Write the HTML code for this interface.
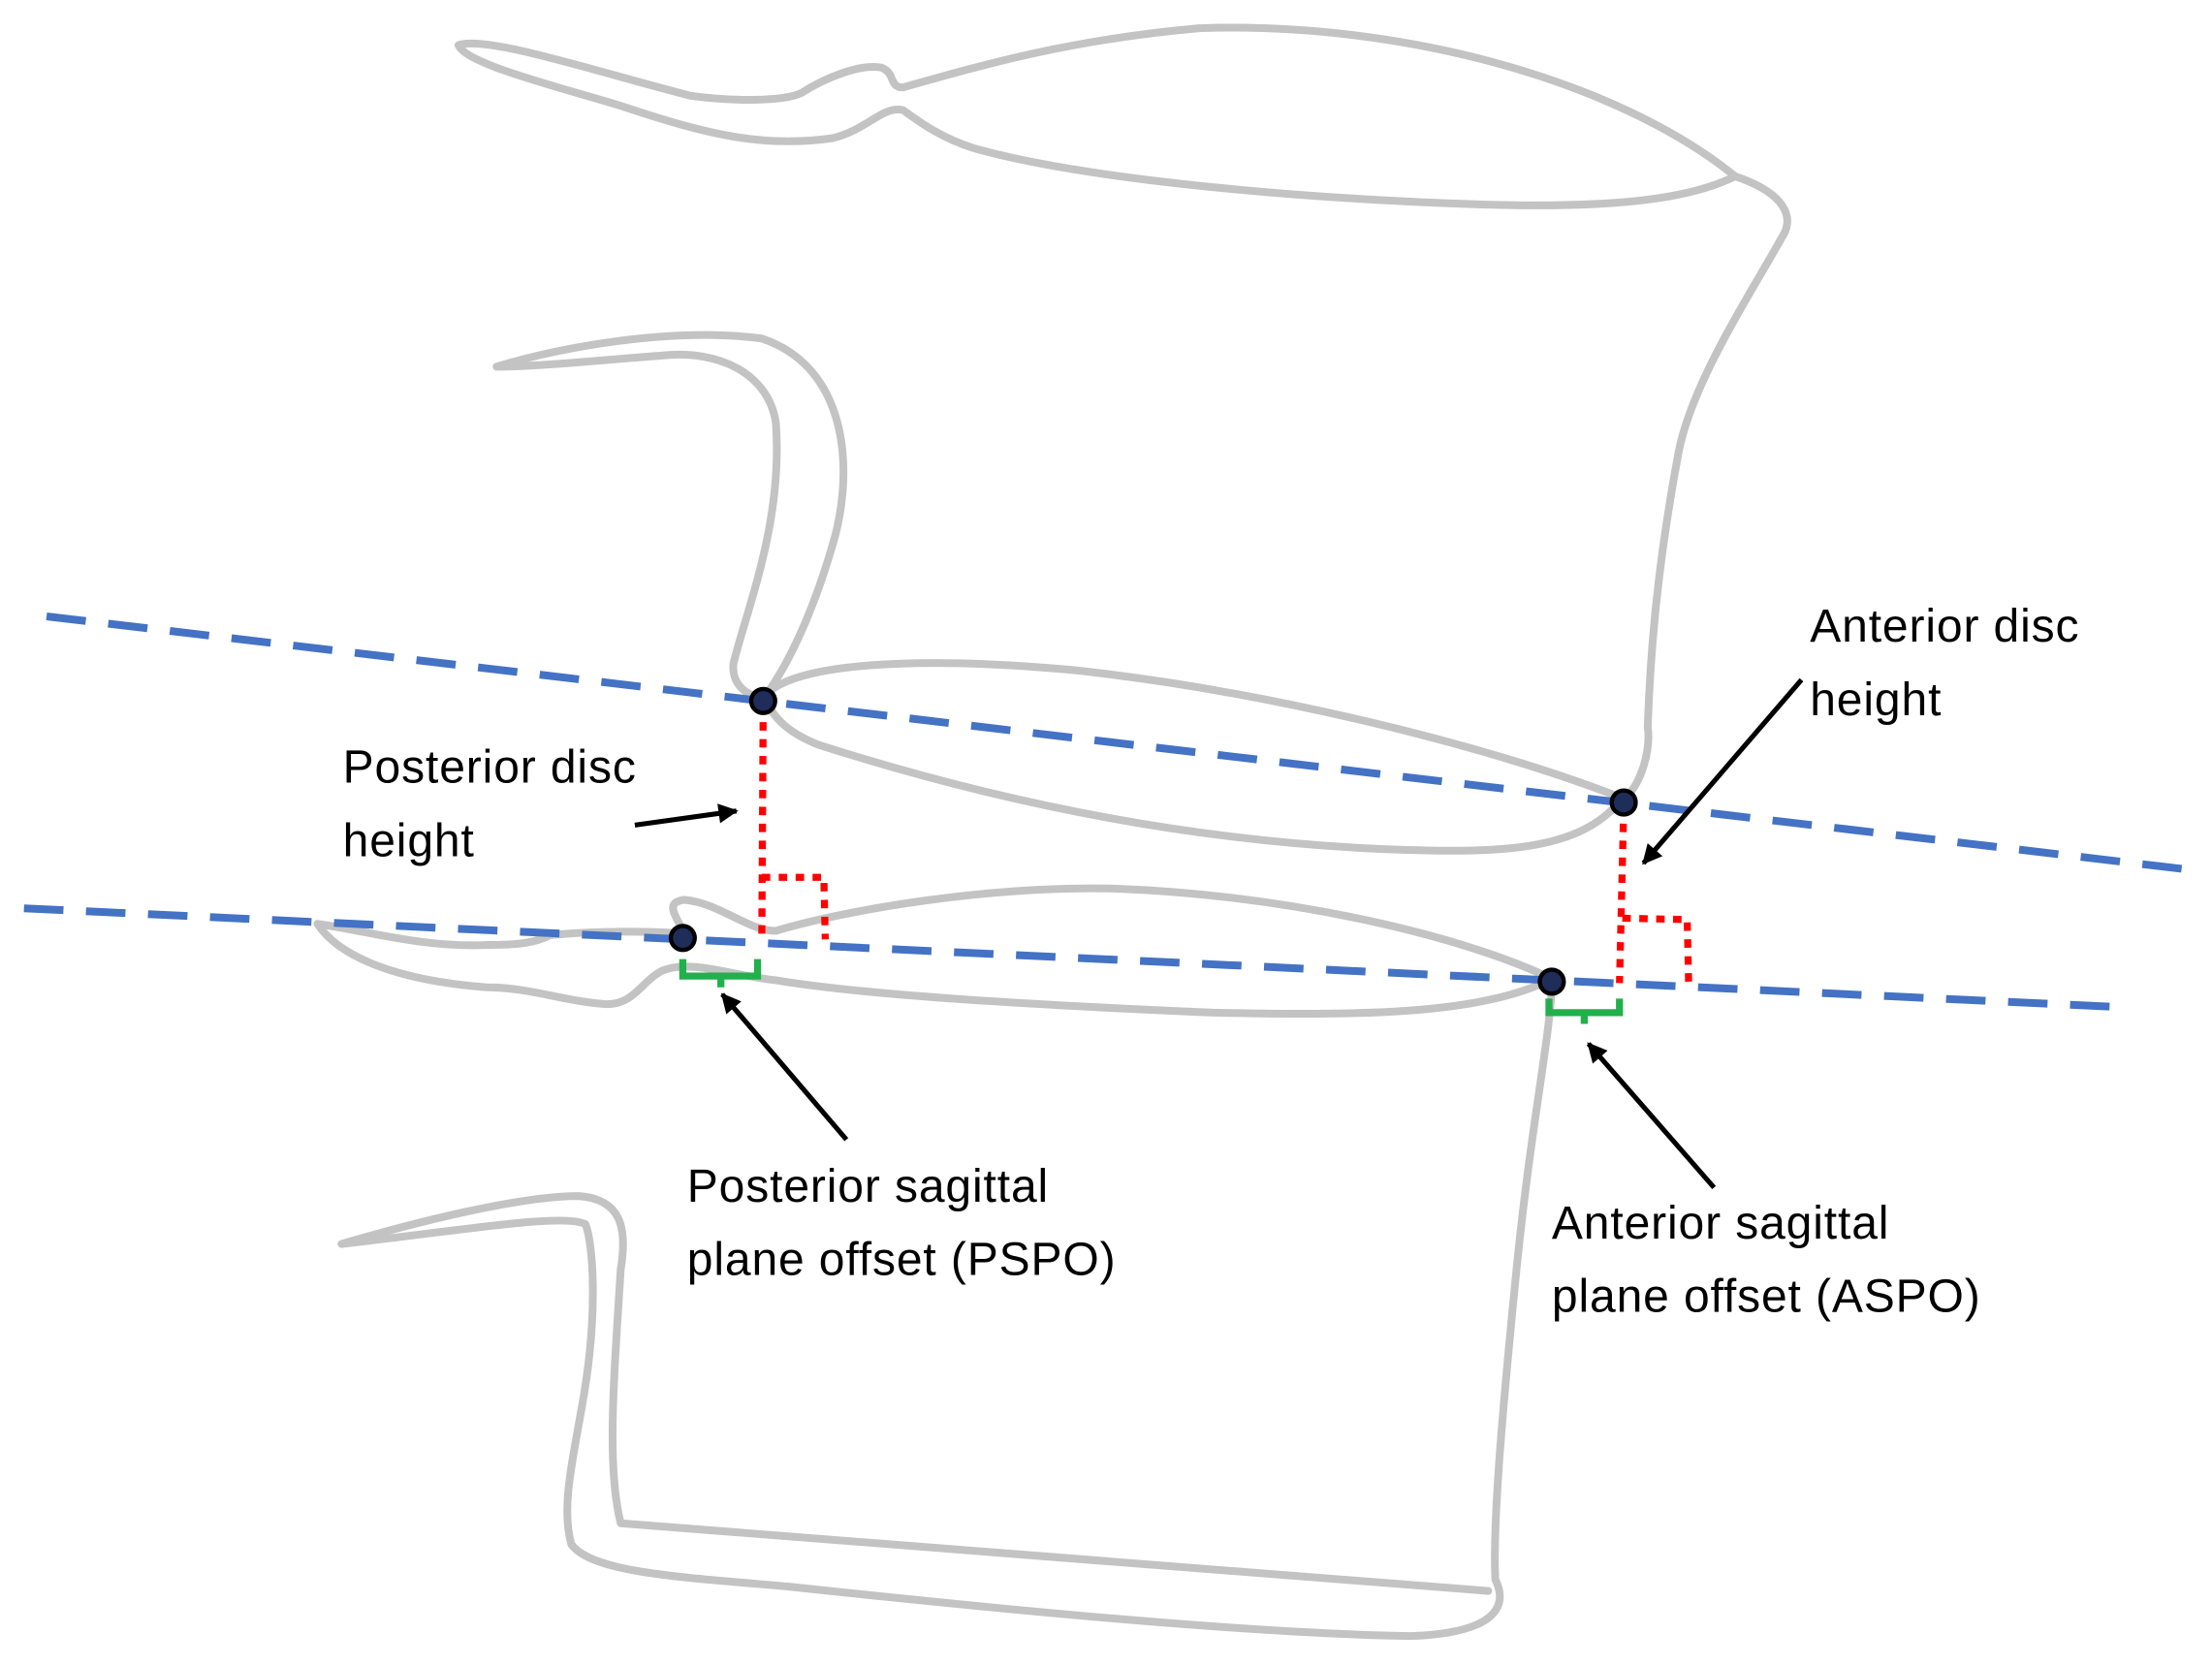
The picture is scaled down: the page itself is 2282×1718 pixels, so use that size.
<!DOCTYPE html>
<html><head><style>html,body{margin:0;padding:0;background:#fff}svg{display:block}</style></head>
<body>
<svg width="2282" height="1718" viewBox="0 0 1568 1180.5" preserveAspectRatio="none" xmlns="http://www.w3.org/2000/svg">
<defs>
<marker id="ah2" viewBox="0 0 10 10" markerWidth="18" markerHeight="14" refX="9" refY="5" orient="auto" markerUnits="userSpaceOnUse">
<path d="M0,0 L10,5 L0,10 Z" fill="#000"/>
</marker>
</defs>
<g fill="none" stroke="#c3c3c3" stroke-width="5.5" stroke-linejoin="round" stroke-linecap="round">
<path d="M325,32 C345,25 420,50 490,68 C520,72 555,72 568,66 C585,55 610,45 625,48 C635,52 630,62 640,62 C700,45 760,28 850,20 C1000,15 1150,60 1230,125 C1200,140 1150,148 1050,145 C900,140 760,125 690,105 C665,97 650,85 640,78 C625,75 615,92 590,98 C540,105 500,95 440,75 C390,60 330,45 325,32 Z"/>
<path d="M1230,125 C1260,135 1272,150 1265,165 C1240,210 1200,270 1190,320 C1175,400 1170,460 1168,515 C1170,530 1165,555 1150,568"/>
<path d="M352,260 C400,245 480,232 540,240 C600,260 605,330 592,380 C578,430 560,470 542,494 C530,495 518,485 520,470 C530,430 555,370 550,300 C545,265 510,248 470,252 C430,255 380,260 352,260 Z"/>
<path d="M542,494 C560,470 650,465 760,475 C900,490 1060,530 1150,566 C1120,605 1060,605 980,602 C820,595 680,560 580,528 C560,520 548,510 542,494 Z"/>
<path d="M485,662 C480,650 470,640 485,638 C510,640 530,660 550,660 C600,645 700,628 790,630 C920,635 1040,665 1100,694 C1050,720 960,720 860,718 C720,712 610,705 550,695 C520,692 490,680 470,688 C455,695 450,712 430,712 C400,710 375,700 345,700 C280,695 240,678 225,655 C260,660 300,672 345,670 C370,670 380,668 390,663 C420,660 460,660 485,662"/>
<path d="M1100,700 C1098,740 1085,800 1075,900 C1065,1000 1058,1080 1060,1120 C1070,1140 1058,1158 1000,1160 C880,1158 700,1140 560,1125 C480,1118 420,1115 405,1095 C398,1070 405,1040 412,1000 C425,930 420,880 415,868 C400,860 330,872 242,882 C300,865 370,848 410,848 C440,850 445,870 440,900 C435,980 430,1040 440,1080 C550,1090 800,1110 1055,1128"/>
</g>
<g stroke="#4472c4" stroke-width="5.5" stroke-dasharray="28,16">
<line x1="33" y1="437" x2="1555" y2="617"/>
<line x1="17" y1="644" x2="1502" y2="714"/>
</g>
<g fill="none" stroke="#ff0000" stroke-width="5" stroke-dasharray="6,6">
<line x1="541" y1="500" x2="540" y2="668"/>
<path d="M540,622 L584,622 L585,666"/>
<line x1="1151" y1="572" x2="1148" y2="697"/>
<path d="M1150,651 L1196,652 L1197,697"/>
</g>
<g fill="#1f2d5a" stroke="#000" stroke-width="3">
<circle cx="541" cy="497" r="8.5"/>
<circle cx="1151" cy="569" r="8.5"/>
<circle cx="484" cy="665" r="8.5"/>
<circle cx="1100" cy="696" r="8.5"/>
</g>
<g fill="none" stroke="#22b04c" stroke-width="5">
<path d="M484,680 L484,692 L537,692 L537,680 M511,692 L511,700"/>
<path d="M1098,708 L1098,718 L1148,718 L1148,708 M1123,718 L1123,726"/>
</g>
<g stroke="#000" stroke-width="3.5" marker-end="url(#ah2)">
<line x1="450" y1="585" x2="522" y2="575"/>
<line x1="1277" y1="482" x2="1165" y2="612"/>
<line x1="600" y1="808" x2="512" y2="705"/>
<line x1="1215" y1="842" x2="1126" y2="740"/>
</g>
<g font-family="Liberation Sans, sans-serif" font-size="33" letter-spacing="0.6" fill="#000">
<text x="1283" y="455">Anterior disc</text>
<text x="1283" y="507">height</text>
<text x="243" y="555">Posterior disc</text>
<text x="243" y="607">height</text>
<text x="487" y="852">Posterior sagittal</text>
<text x="487" y="904">plane offset (PSPO)</text>
<text x="1100" y="878">Anterior sagittal</text>
<text x="1100" y="930">plane offset (ASPO)</text>
</g>
</svg>
</body></html>
